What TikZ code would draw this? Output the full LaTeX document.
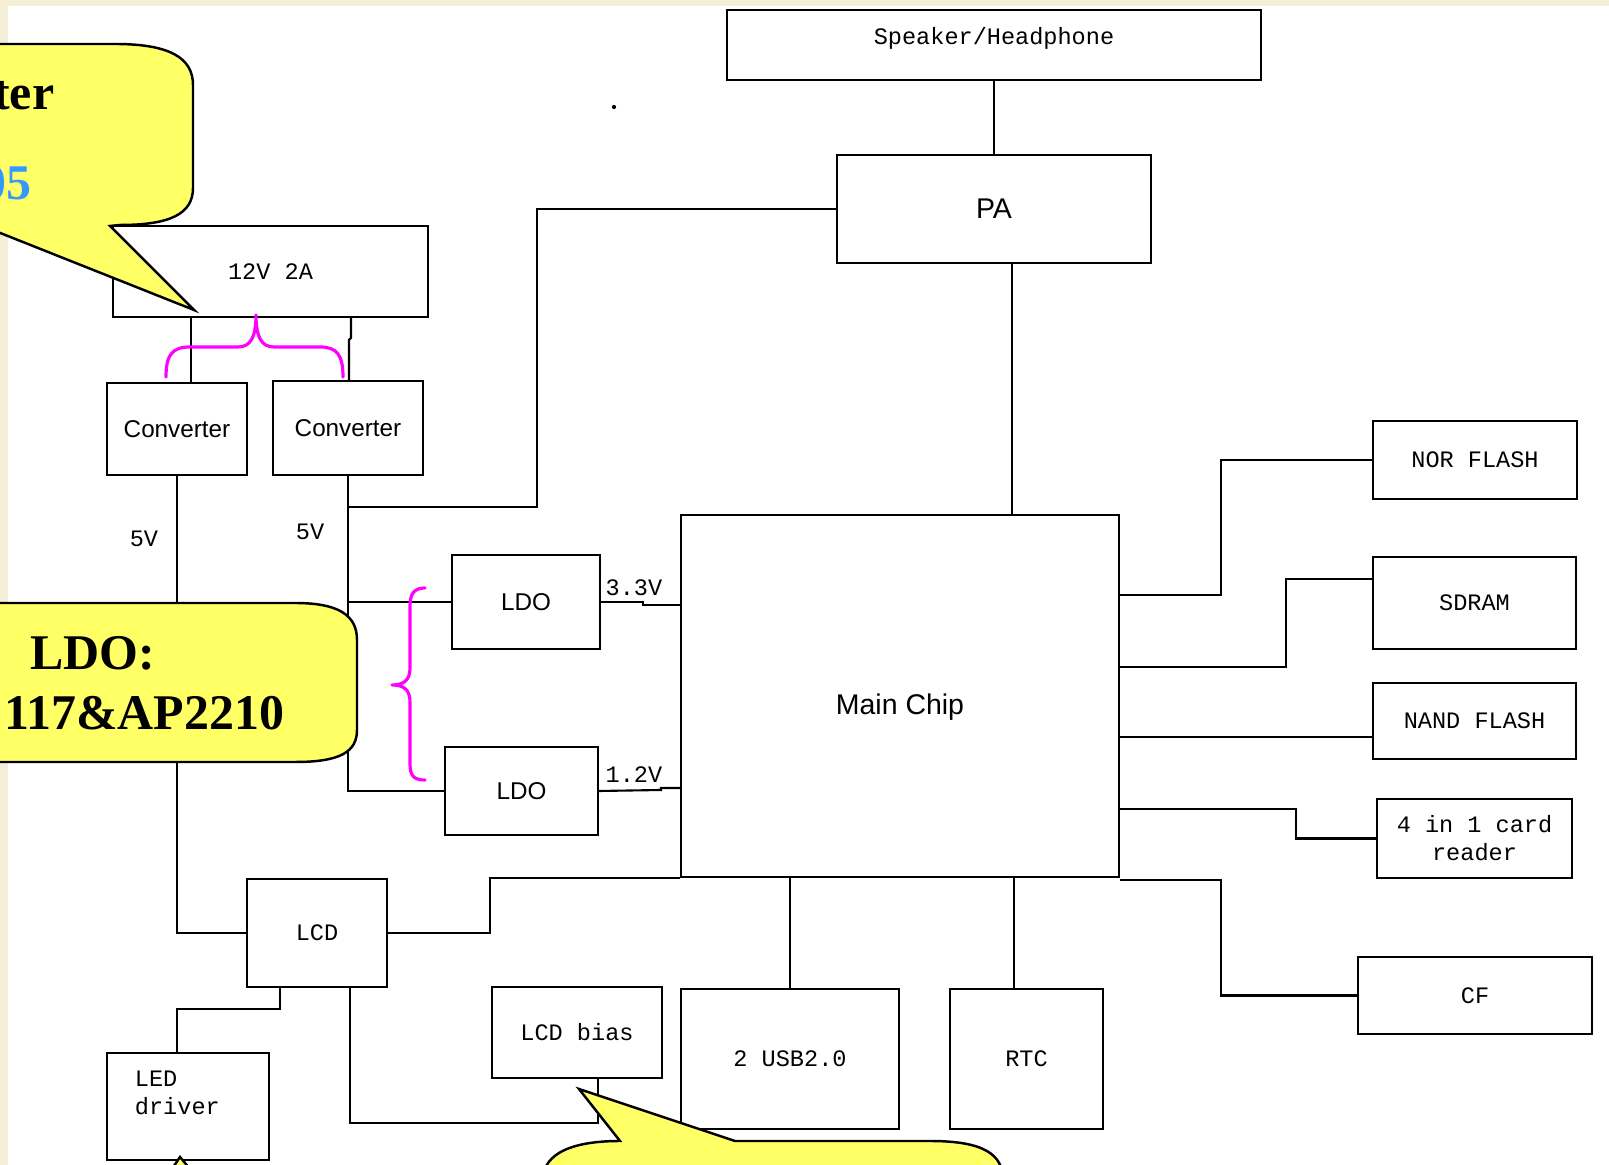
\documentclass[tikz,border=0pt]{standalone}
\usepackage{fontspec}
\newfontfamily\blockmono{Liberation Mono}
\newfontfamily\blocksans{Liberation Sans}
\newfontfamily\noteserif{Liberation Serif}
\usepackage{tikz}
\usetikzlibrary{positioning, calc}
\definecolor{bgcream}{HTML}{F4EED6}
\definecolor{calloutyellow}{HTML}{FFFF66}
\definecolor{bracemag}{HTML}{FF00FF}
\definecolor{calloutblue}{HTML}{3399FF}

\begin{document}
\begin{tikzpicture}[x=0.01cm, y=-0.01cm,
    blk/.style={draw, line width=0.6pt, inner sep=0pt, fill=white},
    mono/.style={font=\blockmono\fontsize{6.7}{7.9}\selectfont},
    sans/.style={font=\blocksans\fontsize{6.9}{8}\selectfont},
    bigsans/.style={font=\blocksans\fontsize{8.1}{9}\selectfont},
    wire/.style={line width=0.6pt},
    brc/.style={draw=bracemag, line width=0.9pt, line cap=round, line join=round},
    note/.style={fill=calloutyellow, draw=black, line width=0.7pt},
    notetxt/.style={font=\noteserif\bfseries\fontsize{14.2}{16}\selectfont, inner sep=0pt}
  ]
    \useasboundingbox (0,0) rectangle (1609,1165);
    \fill[bgcream] (0,0) rectangle (1609,1165);
    \fill[white] (8,6) rectangle (1609,1165);

    % blocks
    \node[blk, minimum width=5.34cm, minimum height=0.70cm,
          label={[mono, yshift=0.07cm]center:Speaker/Headphone}] (spk) at (994,45) {};
    \node[blk, bigsans, minimum width=3.14cm, minimum height=1.08cm] (pa) at (994,209) {PA};
    \node[blk, mono, minimum width=3.15cm, minimum height=0.91cm] (pwr) at (270.5,271.5) {12V 2A};
    \node[blk, sans, minimum width=1.40cm, minimum height=0.92cm] (convA) at (177,429) {Converter};
    \node[blk, sans, minimum width=1.50cm, minimum height=0.94cm] (convB) at (348,428) {Converter};
    \node[blk, sans, minimum width=1.48cm, minimum height=0.94cm] (ldoA) at (526,602) {LDO};
    \node[blk, sans, minimum width=1.53cm, minimum height=0.88cm] (ldoB) at (521.5,791) {LDO};
    \node[blk, minimum width=4.38cm, minimum height=3.62cm,
          label={[bigsans, yshift=-0.11cm]center:Main Chip}] (chip) at (900,696) {};
    \node[blk, mono, minimum width=2.04cm, minimum height=0.78cm] (nor) at (1475,460) {NOR FLASH};
    \node[blk, mono, minimum width=2.03cm, minimum height=0.92cm] (sdram) at (1474.5,603) {SDRAM};
    \node[blk, mono, minimum width=2.03cm, minimum height=0.76cm] (nand) at (1474.5,721) {NAND FLASH};
    \node[blk, mono, minimum width=1.95cm, minimum height=0.79cm, align=center] (card) at (1474.5,838.5) {4 in 1 card\\reader};
    \node[blk, mono, minimum width=2.34cm, minimum height=0.77cm] (cf) at (1475,995.5) {CF};
    \node[blk, mono, minimum width=1.40cm, minimum height=1.08cm] (lcd) at (317,933) {LCD};
    \node[blk, mono, minimum width=1.62cm, minimum height=1.07cm, text width=1.06cm, align=left] (led) at (188,1106.5) {LED\\driver\\\mbox{}};
    \node[blk, mono, minimum width=1.70cm, minimum height=0.91cm] (bias) at (577,1032.5) {LCD bias};
    \node[blk, mono, minimum width=2.18cm, minimum height=1.40cm] (usb) at (790,1059) {2 USB2.0};
    \node[blk, mono, minimum width=1.53cm, minimum height=1.40cm] (rtc) at (1026.5,1059) {RTC};

    % wiring
    \draw[wire] (spk) -- (pa);
    \draw[wire] ([xshift=0.18cm]pa.south) -- ([xshift=0.18cm]pa.south |- chip.north);
    \draw[wire] (pa.west) -| (537,507) -- (convB.south |- 0,507);
    \draw[wire] (pwr.south -| 191,0) -- (convA.north -| 191,0);
    \draw[wire] (pwr.south -| 351,0) -- (351,338) -- (349,340) -- (convB.north -| 349,0);
    \draw[wire] (convB.south) |- (ldoB.west);
    \draw[wire] (convB.south |- ldoA.west) -- (ldoA.west);
    \draw[wire] (convA.south) |- (lcd.west);
    \draw[wire] (ldoA.east) -- (643,602) -- (643,605) -- (chip.west |- 0,605);
    \draw[wire] (ldoB.east) -- (661,790) -- (661,788) -- (chip.west |- 0,788);
    \draw[wire] (lcd.east) -| (chip.south west -| 490,0) -- (chip.south west);
    \draw[wire] (lcd.south -| 280,0) -- (280,1009) -| (led.north -| 177,0);
    \draw[wire] (lcd.south -| 350,0) -- (350,1123) -| (bias.south -| 598,0);
    \draw[wire] (usb.north) -- (usb.north |- chip.south);
    \draw[wire] (rtc.north -| 1014,0) -- (chip.south -| 1014,0);
    \draw[wire] (chip.east |- 0,595) -| (1221,460) -- (nor.west);
    \draw[wire] (chip.east |- 0,667) -| (1286,579) -- (sdram.west |- 0,579);
    \draw[wire] (chip.east |- 0,737) -- (nand.west |- 0,737);
    \draw[wire] (chip.east |- 0,809) -| (1296,838.5) -- (card.west);
    \draw[wire] (chip.south east |- 0,880) -| (1221,995.5) -- (cf.west);

    \node[mono, anchor=base, inner sep=0pt] (fiveA) at (144,547) {5V};
    \node[mono, anchor=base, inner sep=0pt] (fiveB) at (310,540) {5V};
    \node[mono, anchor=base west, inner sep=0pt] (vA) at (605,596) {3.3V};
    \node[mono, anchor=base west, inner sep=0pt] (vB) at (605,783) {1.2V};
    \fill (614,107) circle (0.6pt);

    % braces
    \draw[brc] (166,377) .. controls (166,355) and (172,347) .. (190,347) -- (238,347)
      .. controls (250,347) and (256,338) .. (256,315)
      .. controls (256,338) and (262,347) .. (274,347) -- (320,347)
      .. controls (337,347) and (343,355) .. (343,377);
    \draw[brc] (425,588) .. controls (414,588) and (410,594) .. (410,606) -- (410,668)
      .. controls (410,680) and (404,685) .. (392,685)
      .. controls (404,685) and (410,690) .. (410,702) -- (410,764)
      .. controls (410,776) and (414,780) .. (425,780);

    % callouts
    \draw[note] (-40,44) -- (115,44) .. controls (170,44) and (193,58) .. (193,85) -- (193,188)
      .. controls (193,214) and (170,225) .. (120,225) -- (110,226) -- (194,310) -- (-40,217) -- cycle;
    \node[notetxt, anchor=base east] (noteA) at (55,110) {ter};
    \node[notetxt, anchor=base east, text=calloutblue] (noteB) at (32,200) {05};
    \draw[note] (-40,603) -- (295,603) .. controls (340,603) and (357,616) .. (357,640) -- (357,730)
      .. controls (357,752) and (340,762) .. (295,762) -- (-40,762) -- cycle;
    \node[notetxt, anchor=base] (noteC) at (93,670) {LDO:};
    \node[notetxt, anchor=base east] (noteD) at (285,730) {117\&AP2210};
    \draw[note] (543,1180) .. controls (543,1152) and (575,1141) .. (620,1141) -- (579,1089) -- (735,1141)
      -- (930,1141) .. controls (985,1141) and (1003,1155) .. (1003,1180) -- cycle;
    \draw[note] (168,1175) -- (180,1157) -- (195,1175);
  \end{tikzpicture}
\end{document}
